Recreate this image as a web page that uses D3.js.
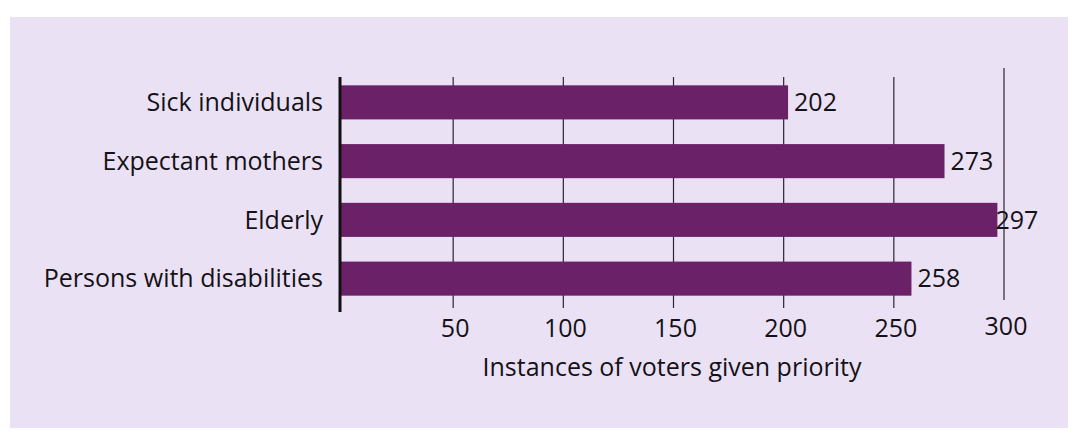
<!DOCTYPE html>
<html><head><meta charset="utf-8">
<script src="https://cdn.jsdelivr.net/npm/d3@7"></script>
<style>html,body{margin:0;padding:0;background:#fff;}svg{display:block;}</style>
</head><body>
<svg id="chart" width="1074" height="436"></svg>
<script>
const categories = ["Sick individuals", "Expectant mothers", "Elderly", "Persons with disabilities"];
const values = [202, 273, 297, 258];
const tickValues = [50, 100, 150, 200, 250, 300];
const axisTitle = "Instances of voters given priority";

const svg = d3.select("#chart");
const font = "'Open Sans', sans-serif";
const ink = "#141216";
const fs = 25;
const fw = 500;

svg.append("rect").attr("x", 10).attr("y", 17).attr("width", 1058).attr("height", 411).attr("fill", "#ebe1f5");

const x = d3.scaleLinear().domain([0, 300]).range([343, 1004]);
const y = d3.scaleBand().domain(categories).range([73, 308]).paddingInner(0.42).paddingOuter(0.21);

// gridlines / ticks
svg.append("g").selectAll("line").data(tickValues).join("line")
  .attr("x1", d => x(d)).attr("x2", d => x(d))
  .attr("y1", d => d === 300 ? 68 : 77).attr("y2", d => d === 300 ? 300 : 308)
  .attr("stroke", "#2a2530").attr("stroke-width", 1.2);

// bars
svg.append("g").selectAll("rect").data(values).join("rect")
  .attr("x", x(0) - 2)
  .attr("y", (d, i) => y(categories[i]))
  .attr("width", d => x(d) - x(0) + 2)
  .attr("height", y.bandwidth())
  .attr("fill", "#6a2167");

// left axis line
svg.append("line").attr("x1", 340).attr("x2", 340).attr("y1", 77).attr("y2", 312)
  .attr("stroke", "#111").attr("stroke-width", 3);

// category labels
svg.append("g").selectAll("text").data(categories).join("text")
  .attr("x", 323).attr("y", d => y(d) + y.bandwidth() / 2)
  .attr("dy", "0.35em").attr("text-anchor", "end")
  .attr("font-family", font).attr("font-size", fs).attr("font-weight", fw).attr("fill", ink)
  .text(d => d);

// value labels
svg.append("g").selectAll("text").data(values).join("text")
  .attr("x", d => x(d) + (d === 297 ? -2 : 6))
  .attr("y", (d, i) => y(categories[i]) + y.bandwidth() / 2)
  .attr("dy", "0.35em")
  .attr("font-family", font).attr("font-size", fs).attr("font-weight", fw).attr("fill", ink)
  .text(d => d);

// tick labels
svg.append("g").selectAll("text").data(tickValues).join("text")
  .attr("x", d => x(d) + 2).attr("y", d => d === 300 ? 335 : 337)
  .attr("text-anchor", "middle")
  .attr("font-family", font).attr("font-size", fs).attr("font-weight", fw).attr("fill", ink)
  .text(d => d);

// axis title
svg.append("text").attr("x", 672).attr("y", 376).attr("text-anchor", "middle")
  .attr("font-family", font).attr("font-size", fs).attr("font-weight", fw).attr("fill", ink)
  .text(axisTitle);
</script>
</body></html>
